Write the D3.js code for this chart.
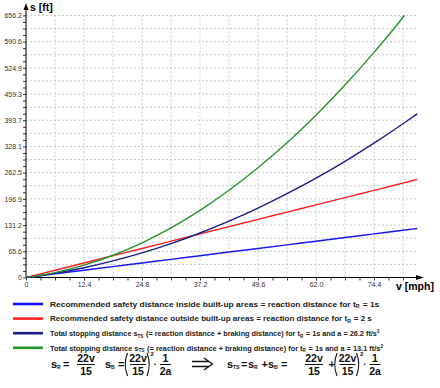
<!DOCTYPE html>
<html>
<head>
<meta charset="utf-8">
<script src="https://cdn.jsdelivr.net/npm/d3@7"></script>
<style>
  body { margin: 0; background: #fff; }
  svg { font-family: "Liberation Sans", Arial, sans-serif; }
</style>
</head>
<body>
<svg id="chart" width="440" height="388"></svg>
<script>
// speed in mph, distances in ft
var speed = [0, 6.2, 12.4, 18.6, 24.8, 31.0, 37.2, 43.4, 49.6, 55.8, 62.0, 68.2, 74.4, 80.6, 83.7]
var safetyInside = [0, 9.1, 18.2, 27.3, 36.4, 45.5, 54.6, 63.7, 72.7, 81.8, 90.9, 100.0, 109.1, 118.2, 122.8]
var safetyOutside = [0, 18.2, 36.4, 54.6, 72.7, 90.9, 109.1, 127.3, 145.5, 163.7, 181.9, 200.1, 218.2, 236.4, 245.5]
var stoppingHardBrake = [0, 10.7, 24.5, 41.5, 61.6, 84.9, 111.4, 141.0, 173.7, 209.7, 248.7, 290.9, 336.3, 384.9, 410.3]
var speedSoft = [0, 6.2, 12.4, 18.6, 24.8, 31.0, 37.2, 43.4, 49.6, 55.8, 62.0, 68.2, 74.4, 80.6, 80.9]
var stoppingSoftBrake = [0, 12.3, 30.8, 55.7, 86.9, 124.4, 168.2, 218.3, 274.8, 337.5, 406.5, 481.9, 563.6, 651.6, 656.2]

var xTickLabels = ["0", "12.4", "24.8", "37.2", "49.6", "62.0", "74.4"]
var yTickLabels = ["0", "65.6", "131.2", "196.9", "262.5", "328.1", "393.7", "459.3", "524.9", "590.6", "656.2"]

var seriesNames = [
    "Recommended safety distance inside built-up areas = reaction distance for t|R| = 1s",
    "Recommended safety distance outside built-up areas  = reaction distance for t|R| = 2 s",
    "Total stopping distance s|TS| (= reaction distance + braking distance) for t|R| = 1s and a = 26.2 ft/s^2",
    "Total stopping distance s|TS| (= reaction distance + braking distance) for t|R| = 1s and a = 13.1 ft/s^2"
]
var colors = ["#1717ff", "#ff2020", "#1c1c8a", "#27962a"]
var legendWidths = [330, 323, 330, 334]

var svg = d3.select("#chart")

var x = d3.scaleLinear().domain([0, 83.7]).range([26, 417.5])
var y = d3.scaleLinear().domain([0, 656.2]).range([277.5, 15.4])

// grid
var grid = svg.append("g").attr("id", "grid")
grid.selectAll(".vgrid")
    .data(d3.range(1, 14).map(function (i) { return i * 6.2 }))
    .enter().append("line")
    .attr("x1", function (d) { return x(d) }).attr("x2", function (d) { return x(d) })
    .attr("y1", y(656.2)).attr("y2", y(0))
    .attr("stroke", "#c9c9c9").attr("stroke-dasharray", "2,2")
grid.selectAll(".hgrid")
    .data(d3.range(1, 21).map(function (i) { return i * 656.2 / 20 }))
    .enter().append("line")
    .attr("x1", x(0)).attr("x2", x(83.7))
    .attr("y1", function (d) { return y(d) }).attr("y2", function (d) { return y(d) })
    .attr("stroke", "#c9c9c9").attr("stroke-dasharray", "2,2")

// axes
var xAxis = d3.axisBottom(x)
    .tickValues(d3.range(0, 27).map(function (i) { return i * 3.1 }))
    .tickSize(3)
    .tickFormat(function (d, i) { return i % 4 == 0 ? xTickLabels[i / 4] : "" })
var yAxis = d3.axisLeft(y)
    .tickValues(d3.range(0, 41).map(function (i) { return i * 656.2 / 40 }))
    .tickSize(3)
    .tickFormat(function (d, i) { return i % 4 == 0 ? yTickLabels[i / 4] : "" })

var gx = svg.append("g").attr("transform", "translate(0," + y(0) + ")").call(xAxis)
var gy = svg.append("g").attr("transform", "translate(" + x(0) + ",0)").call(yAxis)
;[gx, gy].forEach(function (g) {
    g.select(".domain").remove()
    g.selectAll(".tick line").attr("stroke", "#333")
    g.selectAll(".tick text").attr("fill", "#333").style("font-size", "7px")
})
gx.selectAll(".tick text").attr("dy", "0.5em")
gy.selectAll(".tick text").attr("x", -4)

// axis lines with arrows
svg.append("line").attr("x1", x(0)).attr("x2", 418).attr("y1", y(0)).attr("y2", y(0)).attr("stroke", "#000")
svg.append("path").attr("d", "M424," + y(0) + "L416," + (y(0) - 2.5) + "L416," + (y(0) + 2.5) + "Z").attr("fill", "#000")
svg.append("line").attr("x1", x(0)).attr("x2", x(0)).attr("y1", y(0)).attr("y2", 9).attr("stroke", "#000")
svg.append("path").attr("d", "M" + x(0) + ",3L" + (x(0) - 2.5) + ",10L" + (x(0) + 2.5) + ",10Z").attr("fill", "#000")

svg.append("text").attr("x", 30).attr("y", 11).text("s [ft]")
    .style("font-size", "10.5px").style("font-weight", "bold")
svg.append("text").attr("x", 396).attr("y", 290).text("v [mph]")
    .style("font-size", "10.5px").style("font-weight", "bold")

// curves
svg.append("clipPath").attr("id", "plotclip").append("rect")
    .attr("x", x(0)).attr("y", y(656.2) - 1).attr("width", x(83.7) - x(0)).attr("height", y(0) - y(656.2) + 1)

var line = d3.line()
    .x(function (d) { return x(d[0]) })
    .y(function (d) { return y(d[1]) })
    .curve(d3.curveMonotoneX)

var seriesData = [
    d3.zip(speed, safetyInside),
    d3.zip(speed, safetyOutside),
    d3.zip(speed, stoppingHardBrake),
    d3.zip(speedSoft, stoppingSoftBrake)
]
var curves = svg.append("g").attr("clip-path", "url(#plotclip)")
curves.selectAll(".curve")
    .data(seriesData)
    .enter().append("path")
    .attr("class", "curve")
    .attr("d", line)
    .attr("fill", "none")
    .attr("stroke", function (d, i) { return colors[i] })
    .attr("stroke-width", 1.4)

// legend
var legend = svg.append("g")
seriesNames.forEach(function (name, i) {
    var ly = 304 + i * 14.6
    legend.append("line").attr("x1", 13).attr("x2", 43).attr("y1", ly).attr("y2", ly)
        .attr("stroke", colors[i]).attr("stroke-width", 2.6)
    var g = legend.append("g")
    var t = g.append("text").attr("x", 0).attr("y", 0)
        .style("font-size", "8px").style("font-weight", "bold").attr("fill", "#222")
    // "|x|" marks a subscript, "^x" a superscript
    var parts = name.split(/(\|[^|]+\||\^\d)/)
    parts.forEach(function (p) {
        if (p == "") return
        if (p[0] == "|") {
            t.append("tspan").text(p.slice(1, -1)).style("font-size", "5px").attr("dy", 1.5)
            t.append("tspan").text("\u200a").attr("dy", -1.5)
        } else if (p[0] == "^") {
            t.append("tspan").text(p.slice(1)).style("font-size", "5px").attr("dy", -3)
        } else {
            t.append("tspan").text(p)
        }
    })
    // squeeze/stretch the line to the width it has in the original
    var w = t.node().getBBox().width
    g.attr("transform", "translate(50," + (ly + 2.8) + ") scale(" + (legendWidths[i] / w) + ",1)")
})

// formulas
var f = svg.append("g").style("font-weight", "bold").attr("fill", "#111")
var base = 367.5
function sym(xp, sub) {
    f.append("text").attr("x", xp).attr("y", base).text("s").style("font-size", "11px")
    f.append("text").attr("x", xp + 6).attr("y", base + 1.5).text(sub).style("font-size", "5px")
}
function txt(xp, s, size, yy) {
    f.append("text").attr("x", xp).attr("y", yy || base).text(s).style("font-size", (size || 11) + "px")
}
function frac(xc, num, den, w) {
    f.append("text").attr("x", xc).attr("y", 362.3).attr("text-anchor", "middle").text(num).style("font-size", "10.5px")
    f.append("line").attr("x1", xc - w / 2).attr("x2", xc + w / 2).attr("y1", 364.5).attr("y2", 364.5)
        .attr("stroke", "#111").attr("stroke-width", 1)
    f.append("text").attr("x", xc).attr("y", 374.5).attr("text-anchor", "middle").text(den).style("font-size", "10.5px")
}
function paren(xp, open) {
    var d = open
        ? "M" + (xp + 3) + ",353Q" + (xp - 1.5) + ",364.5 " + (xp + 3) + ",376"
        : "M" + xp + ",353Q" + (xp + 4.5) + ",364.5 " + xp + ",376"
    f.append("path").attr("d", d).attr("fill", "none").attr("stroke", "#111").attr("stroke-width", 1.1)
}
function squareTerm(xp, fw) {
    paren(xp, true)
    frac(xp + 13.5, "22v", "15", fw)
    paren(xp + 22.5, false)
    txt(xp + 26, "2", 6, 355.5)
    txt(xp + 29.5, "\u2022", 6, 366)
    frac(xp + 41, "1", "2a", 11)
}

sym(51, "R"); txt(63, "="); frac(86, "22v", "15", 18)
sym(105, "B"); txt(118, "="); squareTerm(124.5, 16)

// implication arrow
svg.append("path")
    .attr("d", "M192,361.5H209M192,366.5H209M204,358L212.5,364L204,370")
    .attr("fill", "none").attr("stroke", "#111").attr("stroke-width", 1.3)

sym(227, "TS"); txt(241, "="); sym(248, "R"); txt(261.5, "+")
sym(268, "B"); txt(281, "="); frac(314, "22v", "15", 18); txt(328.5, "+")
squareTerm(334, 16)
</script>
</body>
</html>
